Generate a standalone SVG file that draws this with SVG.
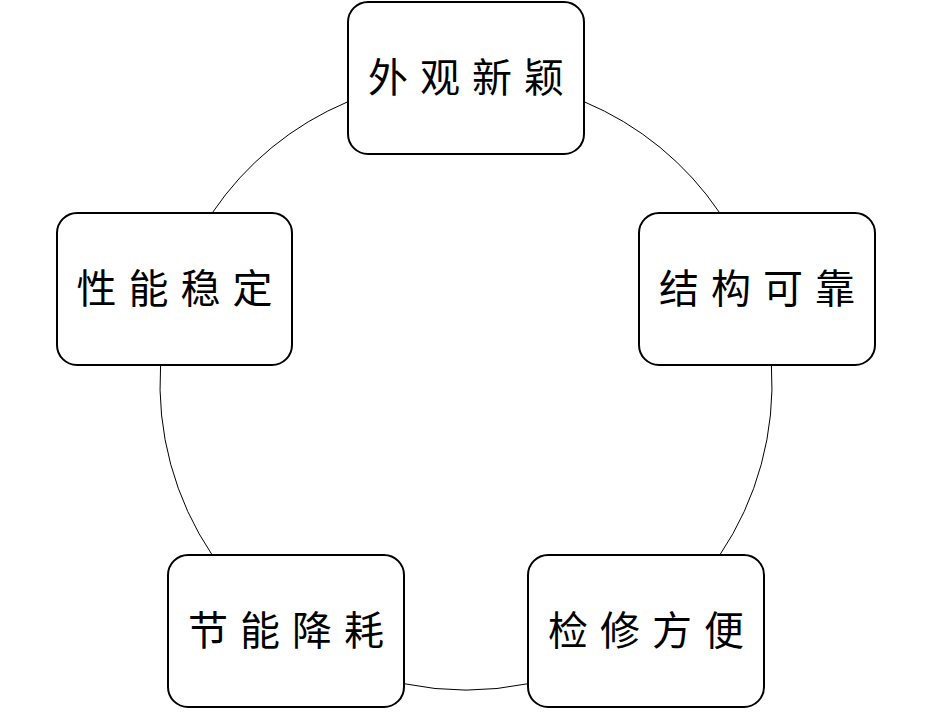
<svg xmlns="http://www.w3.org/2000/svg" width="932" height="719" viewBox="0 0 932 719">
<style>
.box{fill:#fff;stroke:#000;stroke-width:2}
.lbl{font-family:"Noto Sans CJK SC","Noto Sans",sans-serif;font-size:40px;letter-spacing:12px;text-anchor:middle;fill:#000}
.arc{fill:none;stroke:#000;stroke-width:1}
</style>
<rect width="932" height="719" fill="#fff"/>
<g id="connectors">
<path class="arc" d="M584,101.7 A306,306 0 0 1 719.8,213"/>
<path class="arc" d="M771.4,365 A306,306 0 0 1 719.8,555"/>
<path class="arc" d="M528,683.7 A306,306 0 0 1 404,683.7"/>
<path class="arc" d="M212.2,555 A306,306 0 0 1 160.6,365"/>
<path class="arc" d="M212.2,213 A306,306 0 0 1 348,101.7"/>
</g>
<g id="node1"><rect class="box" x="348" y="2" width="236" height="152" rx="20"/><text class="lbl" x="472" y="92">外观新颖</text></g>
<g id="node2"><rect class="box" x="639" y="213" width="236" height="152" rx="20"/><text class="lbl" x="763" y="303">结构可靠</text></g>
<g id="node3"><rect class="box" x="528" y="555" width="236" height="152" rx="20"/><text class="lbl" x="652" y="645">检修方便</text></g>
<g id="node4"><rect class="box" x="168" y="555" width="236" height="152" rx="20"/><text class="lbl" x="292" y="645">节能降耗</text></g>
<g id="node5"><rect class="box" x="57" y="213" width="235" height="152" rx="20"/><text class="lbl" x="180.5" y="303">性能稳定</text></g>
</svg>
